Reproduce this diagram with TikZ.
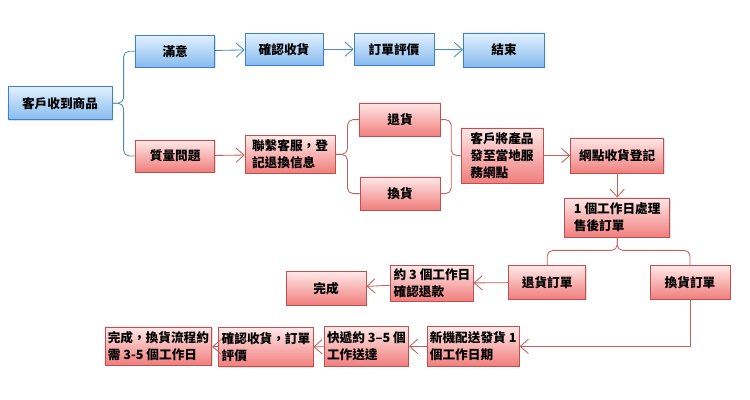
\documentclass[tikz,border=0pt]{standalone}
\usepackage{fontspec}
\setmainfont{Noto Sans CJK TC}
\usetikzlibrary{arrows.meta,shadows}
\definecolor{okedge}{HTML}{3B80CF}
\definecolor{oktop}{HTML}{E2F0FF}
\definecolor{okbot}{HTML}{86BBEE}
\definecolor{bdedge}{HTML}{C0504D}
\definecolor{bdtop}{HTML}{FFE8E8}
\definecolor{bdbot}{HTML}{F07E7C}
\definecolor{okline}{HTML}{4A8FAE}
\definecolor{bdline}{HTML}{C45F5B}
\tikzset{
  okbox/.style={rectangle, draw=okedge, top color=oktop, bottom color=okbot, line width=0.6pt,
                align=center, inner sep=2pt, font=\fontsize{9}{12}\selectfont\bfseries,
                drop shadow={opacity=0.25, shadow xshift=0.6pt, shadow yshift=-0.8pt}},
  bdbox/.style={rectangle, draw=bdedge, top color=bdtop, bottom color=bdbot, line width=0.6pt,
                align=left, inner sep=2pt, font=\fontsize{9}{12}\selectfont\bfseries,
                drop shadow={opacity=0.25, shadow xshift=0.6pt, shadow yshift=-0.8pt}},
  fb/.style={-{Straight Barb[length=2mm, width=3.6mm]}, draw=okline, line width=0.6pt},
  fr/.style={-{Straight Barb[length=2mm, width=3.6mm]}, draw=bdline, line width=0.6pt},
  jb/.style={draw=okline, line width=0.6pt, rounded corners=4pt},
  jr/.style={draw=bdline, line width=0.6pt, rounded corners=4pt},
}
\begin{document}
\begin{tikzpicture}
\useasboundingbox (0,0) rectangle (18.75,-10);

\node[okbox, minimum width=2.6cm, minimum height=0.83cm] (recv) at (1.5,-2.58) {客戶收到商品};
\node[okbox, minimum width=1.98cm, minimum height=0.8cm] (happy) at (4.38,-1.28) {滿意};
\node[okbox, minimum width=1.95cm, minimum height=0.8cm] (confirm) at (7.1,-1.23) {確認收貨};
\node[okbox, minimum width=2.0cm, minimum height=0.8cm] (review) at (9.85,-1.23) {訂單評價};
\node[okbox, minimum width=2.03cm, minimum height=0.85cm] (finish) at (12.6,-1.25) {結束};

\node[bdbox, align=center, minimum width=1.98cm, minimum height=0.8cm] (quality) at (4.38,-3.9) {質量問題};
\node[bdbox, minimum width=2.25cm, minimum height=0.93cm] (contact) at (7.25,-3.86) {聯繫客服，登\\記退換信息};
\node[bdbox, align=center, minimum width=2.03cm, minimum height=0.83cm] (ret) at (10.0,-2.99) {退貨};
\node[bdbox, align=center, minimum width=2.0cm, minimum height=0.83cm] (exch) at (10.0,-4.84) {換貨};
\node[bdbox, minimum width=2.05cm, minimum height=1.38cm] (send) at (12.55,-3.89) {客戶將產品\\發至當地服\\務網點};
\node[bdbox, align=center, minimum width=2.33cm, minimum height=0.88cm] (desk) at (15.43,-3.89) {網點收貨登記};
\node[bdbox, minimum width=2.63cm, minimum height=0.98cm] (handle) at (15.43,-5.44) {1 個工作日處理\\售後訂單};

\node[bdbox, align=center, minimum width=1.93cm, minimum height=0.83cm] (retord) at (13.68,-7.06) {退貨訂單};
\node[bdbox, align=center, minimum width=2.0cm, minimum height=0.83cm] (exord) at (17.25,-7.06) {換貨訂單};
\node[bdbox, minimum width=2.0cm, minimum height=0.9cm] (refund) at (10.8,-7.08) {約 3 個工作日\\確認退款};
\node[bdbox, align=center, minimum width=2.0cm, minimum height=0.83cm] (done) at (8.15,-7.21) {完成};

\node[bdbox, minimum width=2.18cm, minimum height=0.98cm] (newship) at (11.83,-8.66) {新機配送發貨 1\\個工作日期};
\node[bdbox, minimum width=1.93cm, minimum height=0.98cm] (courier) at (9.16,-8.66) {快遞約 3–5 個\\工作送達};
\node[bdbox, minimum width=2.0cm, minimum height=0.98cm] (confirmb) at (6.65,-8.68) {確認收貨，訂單\\評價};
\node[bdbox, minimum width=2.28cm, minimum height=0.95cm] (doneb) at (3.96,-8.65) {完成，換貨流程約\\需 3-5 個工作日};

% happy path
\draw[jb] (recv.east) -- ++(0.28,0) |- (happy.west);
\draw[jb] (recv.east) -- ++(0.28,0) |- (quality.west);
\draw[fb] (happy) -- (confirm);
\draw[fb] (confirm) -- (review);
\draw[fb] (review) -- (finish);

% after-sales path
\draw[fr] (quality) -- (contact);
\draw[jr] (contact.east) -- ++(0.3,0) |- (ret.west);
\draw[jr] (contact.east) -- ++(0.3,0) |- (exch.west);
\coordinate (merge) at (11.28,-3.89);
\draw[jr] (ret.east) -| (merge) -- (send.west);
\draw[jr] (exch.east) -| (merge);
\draw[fr] (send) -- (desk);
\draw[fr] (desk) -- (handle);
\draw[jr] (handle.south) -- ++(0,-0.32) -| (retord.north);
\draw[jr] (handle.south) -- ++(0,-0.32) -| (exord.north);
\draw[fr] (retord) -- (refund);
\draw[fr] (refund) -- (done);
\draw[fr] (exord.south) |- (newship.east);
\draw[fr] (newship) -- (courier);
\draw[fr] (courier) -- (confirmb);
\draw[fr] (confirmb) -- (doneb);
\end{tikzpicture}
\end{document}
